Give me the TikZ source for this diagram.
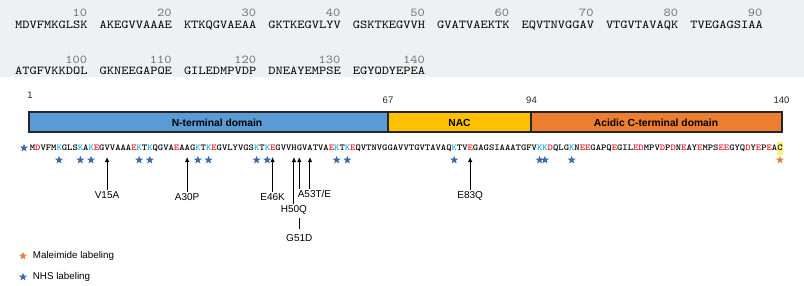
\documentclass[tikz,border=0pt]{standalone}
\usepackage{fontspec}
\setmainfont{Liberation Sans}
\newfontfamily\topseqfont[FakeStretch=1.149]{lmmono10-regular.otf}
\newfontfamily\seqfont[FakeStretch=1.13]{lmmonolt10-bold.otf}
\usepackage{tikz}
\usetikzlibrary{arrows.meta,positioning,calc,shapes.geometric}

\definecolor{panelgray}{HTML}{EEF0F2}
\definecolor{numgray}{HTML}{707070}
\definecolor{ntblue}{HTML}{5B9BD5}
\definecolor{nacyellow}{HTML}{FFC000}
\definecolor{ctorange}{HTML}{ED7D31}
\definecolor{acidred}{HTML}{E8141C}
\definecolor{lysblue}{HTML}{1AA6E8}
\definecolor{nhsblue}{HTML}{3B6CAA}
\definecolor{malorange}{HTML}{E4823C}
\definecolor{hiyellow}{HTML}{F8F27A}

\newcommand{\acid}[1]{\textcolor{acidred}{#1}}
\newcommand{\lys}[1]{\textcolor{lysblue}{#1}}

\tikzset{
  labstar/.style={star, star points=5, star point ratio=2.4, minimum size=8.5pt, inner sep=0pt, fill=#1},
  mutarrow/.style={line width=1pt, -{Latex[length=5pt,width=4.5pt]}},
  mutlabel/.style={font=\fontsize{10}{11}\selectfont, inner sep=1.5pt},
  legtext/.style={font=\fontsize{9.8}{11}\selectfont, inner sep=1pt},
  posnum/.style={font=\fontsize{9.5}{10}\selectfont, text=black!85, inner sep=0pt},
  domlabel/.style={font=\fontsize{10.3}{11}\selectfont\bfseries, inner sep=0pt},
  barline/.style={line width=1.1pt, draw=black!85},
  topgrp/.style={font=\fontsize{12}{13}\topseqfont, text=black, anchor=base west, inner sep=0pt},
  topnum/.style={font=\fontsize{12}{13}\topseqfont, text=numgray, anchor=base east, inner sep=0pt}
}

\begin{document}
\begin{tikzpicture}[x=1pt,y=-1pt]
\useasboundingbox (0,0) rectangle (804,285);

% sequence panel on top
\fill[panelgray] (0,0) rectangle (804,77);
\begin{scope}
\clip (0,0) rectangle (804,73.3);
\foreach \grp [count=\i, evaluate=\i as \num using int(10*\i)] in
  {MDVFMKGLSK,AKEGVVAAAE,KTKQGVAEAA,GKTKEGVLYV,GSKTKEGVVH,GVATVAEKTK,EQVTNVGGAV,VTGVTAVAQK,TVEGAGSIAA}{
  \node[topgrp] (ga\i) at ({15+(\i-1)*84.4},28.3) {\grp};
  \node[topnum] (na\i) at ({15+(\i-1)*84.4+72.4},16.7) {\num};
}
\foreach \grp [count=\i, evaluate=\i as \num using int(90+10*\i)] in
  {ATGFVKKDQL,GKNEEGAPQE,GILEDMPVDP,DNEAYEMPSE,EGYQDYEPEA}{
  \node[topgrp] (gb\i) at ({15+(\i-1)*84.4},74.3) {\grp};
  \node[topnum] (nb\i) at ({15+(\i-1)*84.4+72.4},63.3) {\num};
}
\end{scope}

% domain bar
\draw[barline, fill=ntblue] (29,112) rectangle (388,132);
\draw[barline, fill=nacyellow] (388,112) rectangle (531,132);
\draw[barline, fill=ctorange] (531,112) rectangle (782,132);
\node[domlabel] (ntd) at (217,122.5) {N-terminal domain};
\node[domlabel] (nac) at (459.5,122.5) {NAC};
\node[domlabel] (ctd) at (656,122.5) {Acidic C-terminal domain};
\node[posnum] (p1) at (30,95.5) {1};
\node[posnum] (p67) at (388,100) {67};
\node[posnum] (p94) at (531.5,100) {94};
\node[posnum] (p140) at (781.5,100) {140};

% residues of the labelled sequence
\foreach \i in {1,...,141}
  \coordinate (r\i) at ({32.3+(\i-1)*5.34},148);
\foreach \m in {15,30,46,50,51,53,83}
  \coordinate (t\m) at ($(r\m)+(0,9)$);
\fill[hiyellow] ($(r141)+(-3,-6.5)$) rectangle ($(r141)+(3.2,6.5)$);
\node[font=\fontsize{9}{10}\seqfont, anchor=base west, inner sep=0pt] (seq) at (29.63,150.8)
  {M\acid{D}VFM\lys{K}GLS\lys{K}A\lys{K}\acid{E}GVVAAA\acid{E}\lys{K}T\lys{K}QGVA\acid{E}AAG\lys{K}T\lys{K}\acid{E}GVLYVGS\lys{K}T\lys{K}\acid{E}GVVHGVATVA\acid{E}\lys{K}T\lys{K}\acid{E}QVTNVGGAVVTGVTAVAQ\lys{K}TV\acid{E}GAGSIAAATGFV\lys{K}\lys{K}\acid{D}QLG\lys{K}N\acid{E}\acid{E}GAPQ\acid{E}GIL\acid{E}\acid{D}MPV\acid{D}P\acid{D}N\acid{E}AY\acid{E}MPS\acid{E}\acid{E}GYQ\acid{D}Y\acid{E}P\acid{E}AC};

% labelling sites
\node[labstar=nhsblue] (snt) at (24,148) {};
\foreach \k in {6,10,12,21,23,32,34,43,45,58,60,80,96,97,102}
  \node[labstar=nhsblue] (s\k) at ($(r\k)+(0,12)$) {};
\node[labstar=malorange] (s141) at ($(r141)+(0,12)$) {};

% disease mutations
\node[mutlabel] (v15a) at ($(r15)+(0,47)$) {V15A};
\node[mutlabel] (a30p) at ($(r30)+(0,49)$) {A30P};
\node[mutlabel] (e46k) at ($(r46)+(0,49)$) {E46K};
\node[mutlabel] (a53te) at ($(r53)+(4.5,46)$) {A53T/E};
\node[mutlabel] (h50q) at ($(r50)+(0,62)$) {H50Q};
\node[mutlabel] (g51d) at ($(r51)+(0,90)$) {G51D};
\node[mutlabel] (e83q) at ($(r83)+(0,48)$) {E83Q};
\draw[mutarrow] (v15a) -- (t15);
\draw[mutarrow] (a30p) -- (t30);
\draw[mutarrow] (e46k) -- (t46);
\draw[mutarrow] (h50q) -- (t50);
\draw[mutarrow] (t51 |- a53te.north) -- (t51);
\draw[mutarrow] (t53 |- a53te.north) -- (t53);
\draw[mutarrow] (e83q) -- (t83);
\draw[line width=1pt, shorten <=4pt, shorten >=1.5pt] (g51d) -- (g51d |- h50q.south);

% legend
\node[labstar=malorange] (malstar) at (23,256) {};
\node[legtext, right=6pt of malstar] (maltext) {Maleimide labeling};
\node[labstar=nhsblue] (nhsstar) at (23,277) {};
\node[legtext, right=6pt of nhsstar] (nhstext) {NHS labeling};
\end{tikzpicture}
\end{document}
